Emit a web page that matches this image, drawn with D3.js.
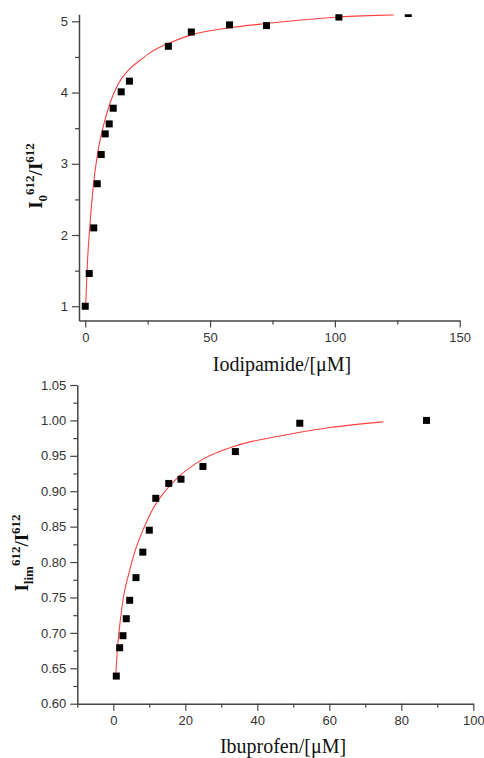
<!DOCTYPE html>
<html>
<head>
<meta charset="utf-8">
<script src="https://cdn.jsdelivr.net/npm/d3@7"></script>
<style>
  body { margin: 0; background: #fff; }
  svg { display: block; }
</style>
</head>
<body>
<div id="chart"></div>
<script>
// top panel: iodipamide
const iodX = [0, 1.6, 3.4, 4.8, 6.4, 8.0, 9.6, 11.2, 14.4, 17.7, 33.3, 42.5, 57.8, 72.6, 101.6, 129.4];
const iodY = [1.0, 1.46, 2.10, 2.72, 3.13, 3.42, 3.56, 3.78, 4.01, 4.16, 4.65, 4.85, 4.95, 4.94, 5.06, 5.11];
// fitted curve
const iodFitX = [0.16, 0.96, 1.9, 3.2, 5.0, 7.2, 9.9, 13.2, 17.2, 22.6, 26, 33.3, 42.5, 57.8, 72.8, 101.8, 123.5];
const iodFitY = [1.0, 1.67, 2.15, 2.68, 3.15, 3.52, 3.85, 4.12, 4.31, 4.47, 4.56, 4.69, 4.81, 4.91, 4.97, 5.06, 5.09];
const iodXTicks = [0, 50, 100, 150];
const iodXMinor = [25, 75, 125];
const iodYTicks = [1, 2, 3, 4, 5];
const iodYMinor = [1.5, 2.5, 3.5, 4.5];

// bottom panel: ibuprofen
const ibuX = [0.83, 1.76, 2.69, 3.6, 4.55, 6.3, 8.2, 10.0, 11.8, 15.4, 18.8, 24.9, 33.9, 51.8, 87.0];
const ibuY = [0.639, 0.679, 0.696, 0.720, 0.746, 0.778, 0.814, 0.845, 0.890, 0.911, 0.917, 0.935, 0.956, 0.996, 1.000];
const ibuFitX = [0.67, 1.2, 1.86, 2.8, 4.17, 6.0, 8.4, 11.1, 14.4, 18.5, 24.8, 33.9, 46.3, 60.2, 75];
const ibuFitY = [0.640, 0.680, 0.714, 0.750, 0.781, 0.815, 0.847, 0.876, 0.900, 0.922, 0.945, 0.964, 0.978, 0.990, 0.998];
const ibuXTicks = [0, 20, 40, 60, 80, 100];
const ibuXMinor = [-10, 10, 30, 50, 70, 90];
const ibuYTicks = [0.60, 0.65, 0.70, 0.75, 0.80, 0.85, 0.90, 0.95, 1.00, 1.05];
const ibuYMinor = [0.625, 0.675, 0.725, 0.775, 0.825, 0.875, 0.925, 0.975, 1.025];

const W = 484, H = 758;
const axisColor = '#444';
const tickFont = '"Liberation Sans", Arial, sans-serif';
const serif = '"Liberation Serif", "Times New Roman", serif';

const svg = d3.select('#chart').append('svg')
    .attr('width', W)
    .attr('height', H);

function drawPanel(p) {
    const x = d3.scaleLinear().domain(p.xDomain).range([p.left, p.right]);
    const y = d3.scaleLinear().domain(p.yDomain).range([p.bottom, p.top]);
    const g = svg.append('g');

    // clip so markers past the top edge get cut like in the original
    g.append('clipPath').attr('id', p.id + '-clip')
        .append('rect')
        .attr('x', p.left).attr('y', p.top)
        .attr('width', p.right - p.left)
        .attr('height', p.bottom - p.top);

    // minor ticks
    g.append('g')
        .attr('transform', `translate(0,${p.bottom})`)
        .call(d3.axisBottom(x).tickValues(p.xMinor).tickSize(4).tickFormat(''))
        .call(s => s.select('.domain').remove());
    g.append('g')
        .attr('transform', `translate(${p.left},0)`)
        .call(d3.axisLeft(y).tickValues(p.yMinor).tickSize(4).tickFormat(''))
        .call(s => s.select('.domain').remove());

    // major axes
    const xAxis = g.append('g')
        .attr('transform', `translate(0,${p.bottom})`)
        .call(d3.axisBottom(x).tickValues(p.xTicks).tickSize(7).tickSizeOuter(0)
            .tickPadding(5).tickFormat(d3.format('d')));
    const yAxis = g.append('g')
        .attr('transform', `translate(${p.left},0)`)
        .call(d3.axisLeft(y).tickValues(p.yTicks).tickSize(7).tickSizeOuter(0)
            .tickPadding(4).tickFormat(p.yFormat));

    g.selectAll('.tick line').attr('stroke', axisColor).attr('stroke-width', 1.2);
    g.selectAll('.domain').attr('stroke', axisColor).attr('stroke-width', 1.5);
    [xAxis, yAxis].forEach(a => a.selectAll('text')
        .attr('font-family', tickFont)
        .attr('font-size', 13)
        .attr('fill', '#333'));

    const plot = g.append('g').attr('clip-path', `url(#${p.id}-clip)`);

    // fit curve
    const line = d3.line()
        .x(d => x(d[0]))
        .y(d => y(d[1]))
        .curve(d3.curveMonotoneX);
    plot.append('path')
        .datum(p.fitX.map((v, i) => [v, p.fitY[i]]))
        .attr('fill', 'none')
        .attr('stroke', '#ff4040')
        .attr('stroke-width', 1.1)
        .attr('d', line);

    // data markers
    const s = 7;
    plot.selectAll('rect.pt')
        .data(p.dataX.map((v, i) => [v, p.dataY[i]]))
        .join('rect')
        .attr('class', 'pt')
        .attr('x', d => x(d[0]) - s / 2)
        .attr('y', d => y(d[1]) - s / 2)
        .attr('width', s)
        .attr('height', s)
        .attr('fill', '#000');

    // x label
    svg.append('text')
        .attr('x', p.xLabelPos[0])
        .attr('y', p.xLabelPos[1])
        .attr('text-anchor', 'middle')
        .attr('font-family', serif)
        .attr('font-size', 20)
        .attr('fill', '#111')
        .text(p.xLabel);

    // y label with sub/superscripts
    const yl = svg.append('text')
        .attr('transform', `translate(${p.yLabelPos[0]},${p.yLabelPos[1]}) rotate(-90)`)
        .attr('text-anchor', 'middle')
        .attr('font-family', serif)
        .attr('font-weight', 'bold')
        .attr('font-size', 19)
        .attr('fill', '#111');
    yl.append('tspan').text('I');
    yl.append('tspan').attr('font-size', 13).attr('dy', 5).text(p.ySub);
    yl.append('tspan').attr('font-size', 13).attr('dy', -13).attr('dx', p.supShift).text('612');
    yl.append('tspan').attr('dy', 8).text('/I');
    yl.append('tspan').attr('font-size', 13).attr('dy', -8).text('612');
}

drawPanel({
    id: 'iod',
    left: 79, right: 459.7, top: 14.2, bottom: 320.5,
    xDomain: [-2.5, 150], yDomain: [0.8, 5.1],
    xTicks: iodXTicks, xMinor: iodXMinor,
    yTicks: iodYTicks, yMinor: iodYMinor,
    yFormat: d3.format('d'),
    dataX: iodX, dataY: iodY, fitX: iodFitX, fitY: iodFitY,
    xLabel: 'Iodipamide/[\u03bcM]', xLabelPos: [282, 371],
    ySub: '0', supShift: 0, yLabelPos: [42, 176]
});

drawPanel({
    id: 'ibu',
    left: 77.3, right: 473.3, top: 385, bottom: 703.7,
    xDomain: [-10, 100], yDomain: [0.6, 1.05],
    xTicks: ibuXTicks, xMinor: ibuXMinor,
    yTicks: ibuYTicks, yMinor: ibuYMinor,
    yFormat: d3.format('.2f'),
    dataX: ibuX, dataY: ibuY, fitX: ibuFitX, fitY: ibuFitY,
    xLabel: 'Ibuprofen/[\u03bcM]', xLabelPos: [283, 753],
    ySub: 'lim', supShift: 0, yLabelPos: [28, 553]
});
</script>
</body>
</html>
